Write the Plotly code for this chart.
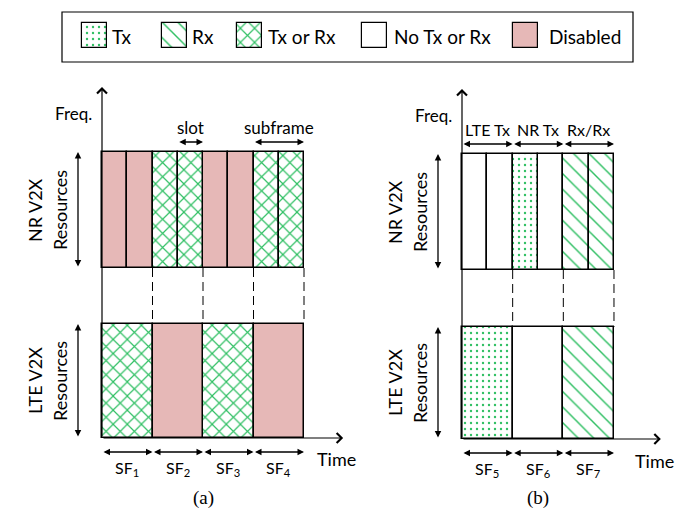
import plotly.graph_objects as go

# ---------------- data ----------------
legend_labels = ["Tx", "Rx", "Tx or Rx", "No Tx or Rx", "Disabled"]

# panel (a): NR slots (2 per subframe) and LTE subframes
a_nr_slots = ["Disabled", "Disabled", "Tx or Rx", "Tx or Rx",
              "Disabled", "Disabled", "Tx or Rx", "Tx or Rx"]
a_lte_subframes = ["Tx or Rx", "Disabled", "Tx or Rx", "Disabled"]
a_sf_labels = ["SF<sub>1</sub>", "SF<sub>2</sub>", "SF<sub>3</sub>", "SF<sub>4</sub>"]

# panel (b)
b_nr_slots = ["No Tx or Rx", "No Tx or Rx", "Tx", "No Tx or Rx", "Rx", "Rx"]
b_lte_subframes = ["Tx", "No Tx or Rx", "Rx"]
b_sf_labels = ["SF<sub>5</sub>", "SF<sub>6</sub>", "SF<sub>7</sub>"]
b_top_labels = ["LTE Tx", "NR Tx", "Rx/Rx"]

# ---------------- styles / layout constants ----------------
GREEN = "#2FBF63"
PINK = "#E6B8B7"
FONT = "Lato, 'Open Sans', sans-serif"
STYLE = {
    "Tx": dict(color="white", shape=".", size=6, solidity=0.12),
    "Rx": dict(color="white", shape="\\", size=11, solidity=0.13),
    "Tx or Rx": dict(color="white", shape="x", size=10, solidity=0.22),
    "No Tx or Rx": dict(color="white", shape=None),
    "Disabled": dict(color=PINK, shape=None),
}

W, H = 684, 513
A_X0, A_SLOT = 102, 25.25
B_X0, B_SLOT = 462, 25.33
A_NR, A_LTE = (152, 268), (324, 438)
B_NR, B_LTE = (154, 270), (327, 439)

fig = go.Figure()


def add_bars(states, width, top_bottom, xaxis, linew=1.5, centers=None):
    top, bot = top_bottom
    if centers is None:
        centers = [width * (i + 0.5) for i in range(len(states))]
    for state in dict.fromkeys(states):
        idx = [i for i, s in enumerate(states) if s == state]
        st = STYLE[state]
        marker = dict(color=st["color"], line=dict(color="black", width=linew))
        if st["shape"]:
            marker["pattern"] = dict(shape=st["shape"], size=st["size"],
                                     solidity=st["solidity"], fgcolor=GREEN,
                                     bgcolor="white", fillmode="replace")
        fig.add_trace(go.Bar(
            x=[centers[i] for i in idx], y=[bot - top] * len(idx),
            base=[top] * len(idx), width=[width] * len(idx),
            xaxis=xaxis, yaxis="y", showlegend=False, hoverinfo="skip",
            marker=marker, name=state,
        ))


add_bars(a_nr_slots, 1, A_NR, "x")
add_bars(a_lte_subframes, 2, A_LTE, "x")
add_bars(b_nr_slots, 1, B_NR, "x2")
add_bars(b_lte_subframes, 2, B_LTE, "x2")

# legend swatches (pixel axis x3)
leg_box_x = [82, 162, 237, 362, 513]
leg_text_x = [110, 190, 266, 392, 547]
add_bars(legend_labels, 25, (23, 48), "x3", linew=1.2,
         centers=[lx + 12.5 for lx in leg_box_x])

ann = []
shapes = []

shapes.append(dict(type="rect", xref="x3", yref="y", x0=62, x1=633, y0=12, y1=62,
                   line=dict(color="black", width=1.2)))
for lab, tx in zip(legend_labels, leg_text_x):
    ann.append(dict(xref="x3", yref="y", x=tx, y=36, text=lab, showarrow=False,
                    xanchor="left", yanchor="middle", font=dict(size=19)))


def arrow(xref, x, y, ax, ay, double=False, head=2, size=1.0, width=1.3):
    d = dict(xref=xref, yref="y", axref=xref, ayref="y", x=x, y=y, ax=ax, ay=ay,
             text="", showarrow=True, arrowhead=head, arrowsize=size,
             arrowwidth=width, arrowcolor="black", standoff=0, startstandoff=0)
    if double:
        d.update(arrowside="end+start", startarrowhead=head, startarrowsize=size)
    return d


def panel(xref, slot, nr, lte, n_slots, sf_labels, top_arrows, top_labels,
          top_font, sf_y, time_end, time_label_x, time_y, cap, cap_x):
    ann.append(arrow(xref, 0, nr[0] - 65, 0, lte[1], head=4, size=1.6, width=1.2))
    ann.append(arrow(xref, time_end, lte[1], 0, lte[1], head=4, size=1.6, width=1.2))
    for k in range(2, n_slots + 1, 2):
        shapes.append(dict(type="line", xref=xref, yref="y", x0=k, x1=k,
                           y0=nr[1], y1=lte[0],
                           line=dict(color="black", width=1, dash="9px,5px")))
    res_x = -24 / slot
    for band, name in ((nr, "NR V2X"), (lte, "LTE V2X")):
        ann.append(arrow(xref, res_x, band[0], res_x, band[1], double=True))
        mid = (band[0] + band[1]) / 2
        ann.append(dict(xref=xref, yref="y", x=-42 / slot, y=mid, text="Resources",
                        textangle=-90, showarrow=False, font=dict(size=18)))
        ann.append(dict(xref=xref, yref="y", x=-67 / slot, y=mid, text=name,
                        textangle=-90, showarrow=False, font=dict(size=18)))
    ann.append(dict(xref=xref, yref="y", x=-8 / slot, y=nr[0] - 39, text="Freq.",
                    showarrow=False, xanchor="right", font=dict(size=17)))
    for i, lab in enumerate(sf_labels):
        ann.append(arrow(xref, 2 * i + 2, sf_y, 2 * i, sf_y, double=True))
        ann.append(dict(xref=xref, yref="y", x=2 * i + 1, y=sf_y + 16, text=lab,
                        showarrow=False, font=dict(size=16)))
    for (s0, s1), lab in zip(top_arrows, top_labels):
        ann.append(arrow(xref, s1, nr[0] - 10, s0, nr[0] - 10, double=True))
        ann.append(dict(xref=xref, yref="y", x=(s0 + s1) / 2, y=nr[0] - 25, text=lab,
                        showarrow=False, font=dict(size=top_font)))
    ann.append(dict(xref=xref, yref="y", x=time_label_x, y=time_y, text="Time",
                    showarrow=False, xanchor="left", font=dict(size=18)))
    ann.append(dict(xref=xref, yref="y", x=cap_x, y=498, text=cap, showarrow=False,
                    font=dict(size=19, family="'Liberation Serif', serif")))


panel("x", A_SLOT, A_NR, A_LTE, len(a_nr_slots), a_sf_labels,
      [(3, 4), (6, 8)], ["slot", "subframe"], 17, 452, 9.55, 8.45, 459, "(a)", 4)
panel("x2", B_SLOT, B_NR, B_LTE, len(b_nr_slots), b_sf_labels,
      [(0, 2), (2, 4), (4, 6)], b_top_labels, 16, 453, 7.85, 6.75, 461, "(b)", 3)

ax_common = dict(visible=False, showgrid=False, zeroline=False, fixedrange=True)
fig.update_layout(
    width=W, height=H, margin=dict(l=0, r=0, t=0, b=0),
    paper_bgcolor="white", plot_bgcolor="white",
    font=dict(family=FONT, color="black"),
    barmode="overlay", bargap=0,
    xaxis=dict(range=[-A_X0 / A_SLOT, (W - A_X0) / A_SLOT], domain=[0, 1], **ax_common),
    xaxis2=dict(range=[-B_X0 / B_SLOT, (W - B_X0) / B_SLOT], domain=[0, 1],
                overlaying="x", anchor="y", **ax_common),
    xaxis3=dict(range=[0, W], domain=[0, 1], overlaying="x", anchor="y", **ax_common),
    yaxis=dict(range=[H, 0], domain=[0, 1], **ax_common),
    annotations=ann, shapes=shapes,
)

fig.write_html("out.html", config={"displayModeBar": False},
               post_script="document.body.style.margin='0px';")
